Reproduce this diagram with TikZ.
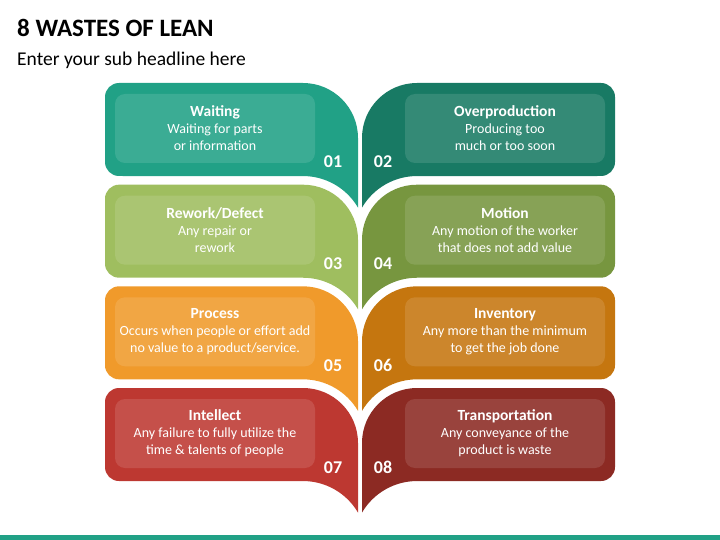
\documentclass[tikz,border=0pt]{standalone}
\usepackage{fontspec}
\setmainfont{Carlito}
\usetikzlibrary{positioning}
\definecolor{waitc}{HTML}{21A186}
\definecolor{overc}{HTML}{187A64}
\definecolor{reworkc}{HTML}{9FBE5F}
\definecolor{motionc}{HTML}{77963F}
\definecolor{processc}{HTML}{F09A2B}
\definecolor{invc}{HTML}{C5760F}
\definecolor{intellc}{HTML}{BD3831}
\definecolor{transc}{HTML}{8C2A23}
\newcommand\cardhead[1]{{\fontsize{15.5}{17}\selectfont\bfseries #1}}
\tikzset{
  leaf/.pic={
    \fill[#1] (105,14) arc[start angle=180,end angle=270,radius=14]
      -- (303,0) arc[start angle=-90,end angle=0,radius=55]
      -- (358,124.6) arc[start angle=-30.3,end angle=-90,radius=63.7]
      -- (119,93) arc[start angle=90,end angle=180,radius=14] -- cycle;
  },
  card/.style={rectangle,rounded corners=10pt,fill=white,fill opacity=0.12,
    text opacity=1,text=white,minimum width=200pt,minimum height=69pt,
    align=center,inner sep=2pt,font=\fontsize{14}{17}\selectfont},
  num/.style={anchor=base,text=white,font=\fontsize{18}{18}\selectfont\bfseries},
}

\begin{document}
\begin{tikzpicture}[x=1pt,y=-1pt]
  \useasboundingbox (0,0) rectangle (720,540);
  \node[anchor=base west,inner sep=0pt,font=\fontsize{25}{25}\selectfont\bfseries] (title) at (17,37) {8 WASTES OF LEAN};
  \node[anchor=base west,inner sep=0pt,font=\fontsize{19.5}{19.5}\selectfont] (subtitle) at (17,66) {Enter your sub headline here};

  % left and right leaves
  \pic at (0,83) {leaf=waitc};
  \pic[xscale=-1] at (720,83) {leaf=overc};
  \pic at (0,184.7) {leaf=reworkc};
  \pic[xscale=-1] at (720,184.7) {leaf=motionc};
  \pic at (0,286.3) {leaf=processc};
  \pic[xscale=-1] at (720,286.3) {leaf=invc};
  \pic at (0,388) {leaf=intellc};
  \pic[xscale=-1] at (720,388) {leaf=transc};

  \node[card] (waiting) at (215,128.5) {\cardhead{Waiting}\\Waiting for parts\\or information};
  \node[card] (overproduction) at (505,128.5) {\cardhead{Overproduction}\\Producing too\\much or too soon};
  \node[card] (rework) at (215,230.2) {\cardhead{Rework/Defect}\\Any repair or\\rework};
  \node[card] (motion) at (505,230.2) {\cardhead{Motion}\\Any motion of the worker\\that does not add value};
  \node[card] (process) at (215,331.8) {\cardhead{Process}\\Occurs when people or effort add\\no value to a product/service.};
  \node[card] (inventory) at (505,331.8) {\cardhead{Inventory}\\Any more than the minimum\\to get the job done};
  \node[card] (intellect) at (215,433.5) {\cardhead{Intellect}\\Any failure to fully utilize the\\time \& talents of people};
  \node[card] (transportation) at (505,433.5) {\cardhead{Transportation}\\Any conveyance of the\\product is waste};

  \node[num] (n01) at (333,168) {01};
  \node[num] (n02) at (383,168) {02};
  \node[num] (n03) at (333,269.7) {03};
  \node[num] (n04) at (383,269.7) {04};
  \node[num] (n05) at (333,371.3) {05};
  \node[num] (n06) at (383,371.3) {06};
  \node[num] (n07) at (333,473) {07};
  \node[num] (n08) at (383,473) {08};

  \fill[waitc] (0,535) rectangle (720,540);
\end{tikzpicture}
\end{document}
